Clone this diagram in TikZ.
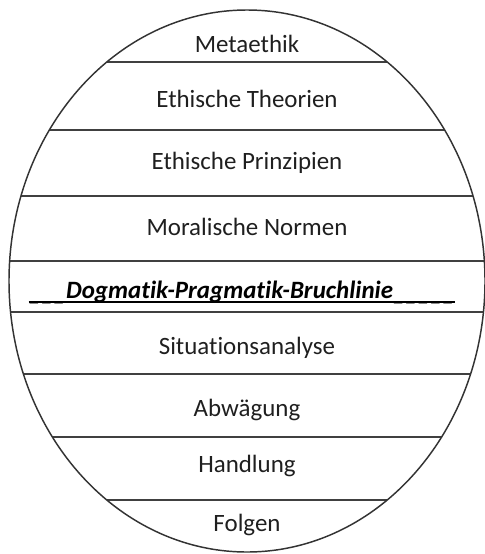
\documentclass[tikz,border=0pt]{standalone}
\usepackage{fontspec}
\setmainfont{Carlito}[Ligatures=NoCommon]

\begin{document}
\begin{tikzpicture}[x=0.75pt,y=-0.75pt,
  layer/.style={anchor=base,font=\fontsize{18.7}{22}\selectfont,text=black!88},
  rim/.style={draw=black!80,line width=1.1pt},
  split/.style={draw=black!75,line width=0.8pt}]
  \useasboundingbox (0,0) rectangle (485,554);
  \coordinate (centre) at (247,281);

  % chords, cut off by the ellipse
  \begin{scope}
    \clip (centre) ellipse [x radius=238, y radius=271];
    \foreach \y in {62,130,196,261,312,374,437,500}
      \draw[split] (0,\y) -- (485,\y);
  \end{scope}
  \draw[rim] (centre) ellipse [x radius=238, y radius=271];

  \node[layer] (meta) at (247,52) {Metaethik};
  \node[layer] (theorien) at (247,107) {Ethische Theorien};
  \node[layer] (prinzipien) at (247,169) {Ethische Prinzipien};
  \node[layer] (normen) at (247,235) {Moralische Normen};
  \node[layer,inner xsep=0pt,font=\fontsize{18.7}{22}\selectfont\bfseries\itshape,text=black] (bruch) at (242,298)
    {\raisebox{-1.5pt}{\_\_\_}Dogmatik-Pragmatik-Bruchlinie\raisebox{-1.5pt}{\_\_\_\_\_}};
  \draw[black,line width=1.6pt] ([yshift=-3pt]bruch.base west) -- ([yshift=-3pt]bruch.base east);
  \node[layer] (analyse) at (247,354) {Situationsanalyse};
  \node[layer] (abwaegung) at (247,416) {Abwägung};
  \node[layer] (handlung) at (247,472) {Handlung};
  \node[layer] (folgen) at (247,531) {Folgen};
\end{tikzpicture}
\end{document}
